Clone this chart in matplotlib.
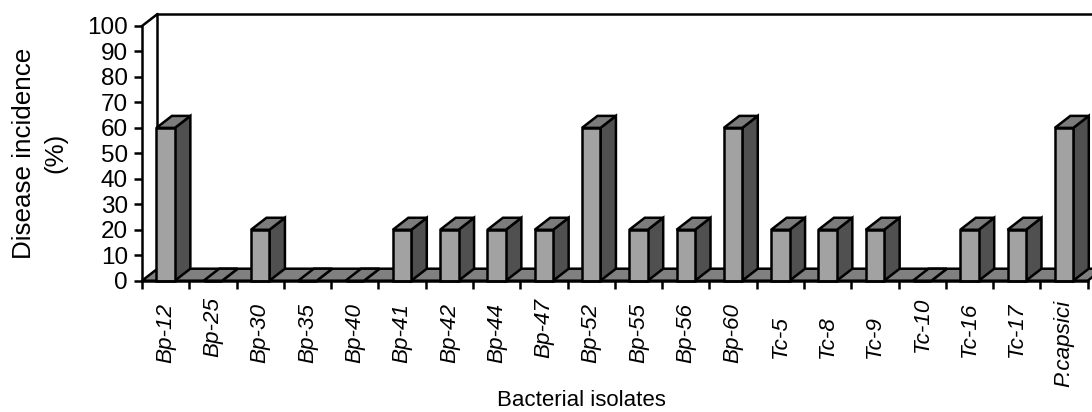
import matplotlib
matplotlib.use("Agg")
import matplotlib.pyplot as plt
from matplotlib.patches import Polygon

plt.rcParams['font.family'] = ['Liberation Sans', 'DejaVu Sans']

isolates = ["Bp-12", "Bp-25", "Bp-30", "Bp-35", "Bp-40", "Bp-41", "Bp-42", "Bp-44", "Bp-47", "Bp-52",
            "Bp-55", "Bp-56", "Bp-60", "Tc-5", "Tc-8", "Tc-9", "Tc-10", "Tc-16", "Tc-17", "P.capsici"]
incidence = [60, 0, 20, 0, 0, 20, 20, 20, 20, 60, 20, 20, 60, 20, 20, 20, 0, 20, 20, 60]
y_ticks = [0, 10, 20, 30, 40, 50, 60, 70, 80, 90, 100]

W, H = 1092, 412
LEFT, RIGHT, BOTTOM, TOP = 142, 1087.7, 280.7, 26

# the x labels sit unevenly in the original, pixel row of each label's top end
label_tops = [303, 297, 303, 303, 303, 303, 303, 303, 298, 303,
              303, 303, 303, 315, 315, 315, 297, 302, 302, 300]

fig = plt.figure(figsize=(W / 100, H / 100), dpi=100)
ax = fig.add_axes([LEFT / W, 1 - BOTTOM / H, (RIGHT - LEFT) / W, (BOTTOM - TOP) / H])
ax.set_xlim(0, len(isolates))
ax.set_ylim(0, 100)

# fake 3d depth, in data units
dx = 15.5 / ((RIGHT - LEFT) / len(isolates))
dy = 12 / ((BOTTOM - TOP) / 100)
bar_w = 0.39
lw = 1.8
FRONT, TOP_C, SIDE, FLOOR = "#a2a2a2", "#7c7c7c", "#505050", "#808080"


def poly(pts, color, z):
    ax.add_patch(Polygon(pts, closed=True, facecolor=color, edgecolor="black", lw=lw,
                         joinstyle="miter", clip_on=False, zorder=z))


n = len(isolates)
# floor + back wall
poly([(0, 0), (n, 0), (n + dx, dy), (dx, dy)], FLOOR, 1)
ax.plot([0, dx, dx], [100, 100 + dy, dy], color="black", lw=lw, clip_on=False, zorder=1)
ax.plot([dx, n + dx], [100 + dy, 100 + dy], color="black", lw=lw, clip_on=False, zorder=1)

for i, v in enumerate(incidence):
    x0 = i + 0.5 - bar_w / 2
    x1 = i + 0.5 + bar_w / 2
    z = 2 + i
    poly([(x1, 0), (x1 + dx, dy), (x1 + dx, v + dy), (x1, v)], SIDE, z)
    poly([(x0, v), (x1, v), (x1 + dx, v + dy), (x0 + dx, v + dy)], TOP_C, z)
    poly([(x0, 0), (x1, 0), (x1, v), (x0, v)], FRONT, z + 0.5)

for s in ["top", "right"]:
    ax.spines[s].set_visible(False)
ax.spines["left"].set_linewidth(lw)
ax.spines["bottom"].set_linewidth(lw)
ax.spines["left"].set_zorder(50)
ax.spines["bottom"].set_zorder(50)

ax.set_yticks(y_ticks)
ax.tick_params(axis="y", length=6, width=lw, labelsize=17.5, pad=4)
ax.set_xticks(range(n + 1))
ax.set_xticklabels([])
ax.tick_params(axis="x", which="major", length=6, width=lw)

for i, name in enumerate(isolates):
    ax.annotate(name, xy=(i + 0.5, 0), xycoords="data",
                xytext=(0, (BOTTOM - label_tops[i]) * 0.72), textcoords="offset points",
                rotation=90, style="italic", fontsize=16.2, ha="center", va="top", annotation_clip=False)

fig.text(40 / W, 1 - 153 / H, "Disease incidence\n(%)", rotation=90, ha="center", va="center",
         fontsize=18.7, multialignment="center", linespacing=1.4)
fig.text(581 / W, 1 - 401 / H, "Bacterial isolates", ha="center", va="center", fontsize=16)

fig.savefig("out.png", dpi=100)
